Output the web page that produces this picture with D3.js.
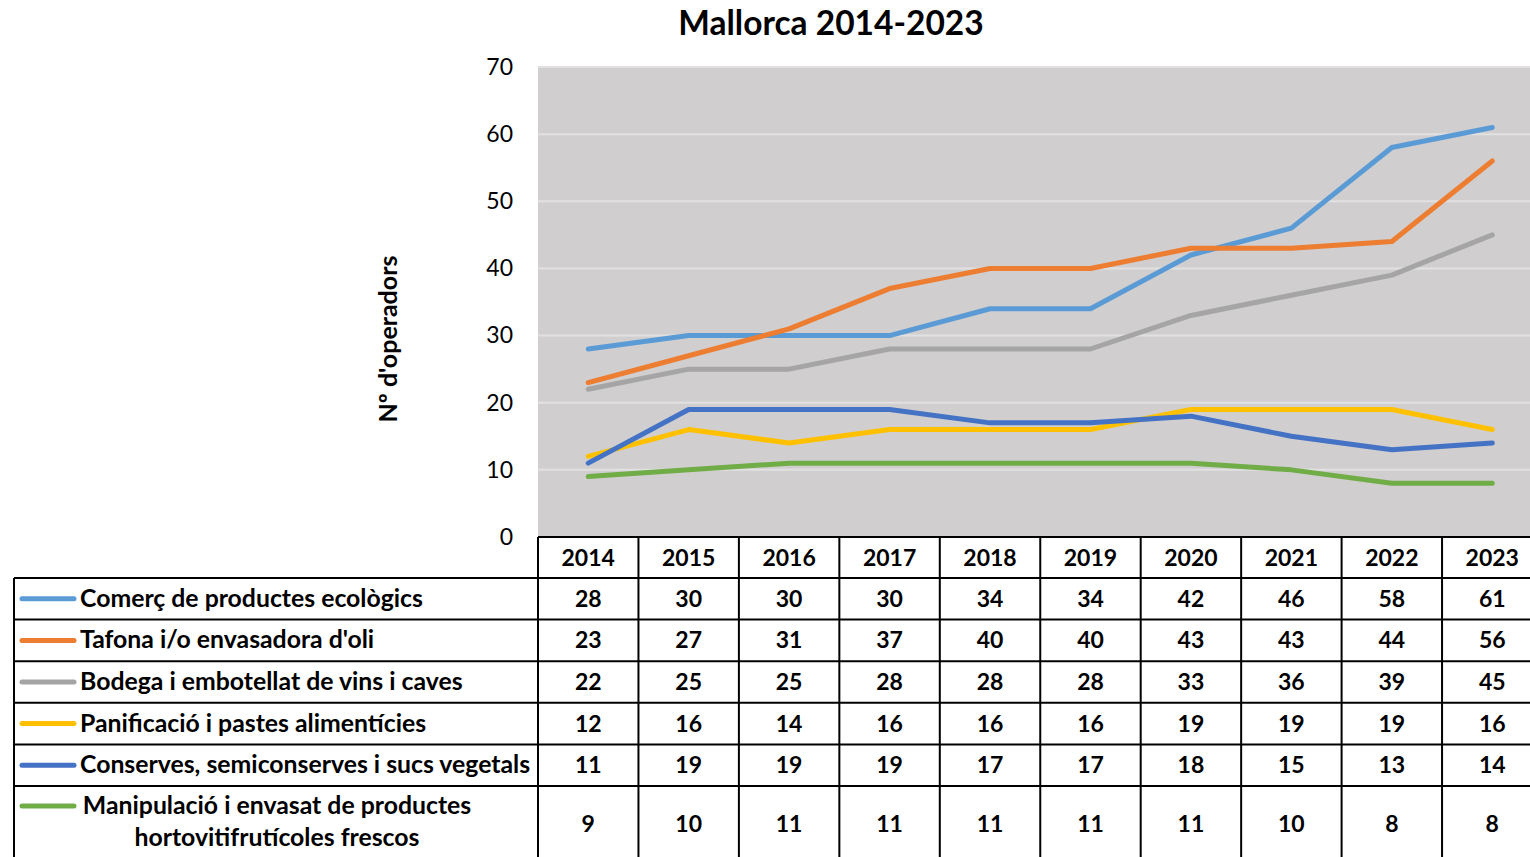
<!DOCTYPE html>
<html>
<head>
<meta charset="utf-8">
<script src="https://cdn.jsdelivr.net/npm/d3@7"></script>
<style>
  html, body { margin: 0; padding: 0; background: #fff; }
  svg { display: block; }
  text { font-family: Lato, "Open Sans", sans-serif; }
</style>
</head>
<body>
<svg id="chart" width="1530" height="857"></svg>
<script>
// Years shown along the category axis
const years = ["2014","2015","2016","2017","2018","2019","2020","2021","2022","2023"];

// Series names (legend / table row labels)
const seriesNames = [
  "Comerç de productes ecològics",
  "Tafona i/o envasadora d'oli",
  "Bodega i embotellat de vins i caves",
  "Panificació i pastes alimentícies",
  "Conserves, semiconserves i sucs vegetals",
  "Manipulació i envasat de productes hortovitifrutícoles frescos"
];

// Number of operators per year, one array per series
const comerc     = [28, 30, 30, 30, 34, 34, 42, 46, 58, 61];
const tafona     = [23, 27, 31, 37, 40, 40, 43, 43, 44, 56];
const bodega     = [22, 25, 25, 28, 28, 28, 33, 36, 39, 45];
const panificacio= [12, 16, 14, 16, 16, 16, 19, 19, 19, 16];
const conserves  = [11, 19, 19, 19, 17, 17, 18, 15, 13, 14];
const manipulacio= [ 9, 10, 11, 11, 11, 11, 11, 10,  8,  8];

const seriesValues = [comerc, tafona, bodega, panificacio, conserves, manipulacio];
const seriesColors = ["#5b9bd5", "#ed7d31", "#a5a5a5", "#ffc000", "#4472c4", "#70ad47"];

const yTicks = [0, 10, 20, 30, 40, 50, 60, 70];

const svg = d3.select("#chart");

// Plot geometry
const plotLeft = 538, plotTop = 67, plotBottom = 537;
const bandW = 100.45;
const plotRight = plotLeft + bandW * years.length;

const x = d3.scaleBand().domain(years).range([plotLeft, plotRight]);
const y = d3.scaleLinear().domain([0, 70]).range([plotBottom, plotTop]);

// Title
svg.append("text")
  .attr("x", 831).attr("y", 35)
  .attr("text-anchor", "middle")
  .attr("font-size", 33.5).attr("font-weight", "bold")
  .attr("fill", "#000")
  .text("Mallorca 2014-2023");

// Plot background
svg.append("rect")
  .attr("x", plotLeft).attr("y", plotTop)
  .attr("width", plotRight - plotLeft).attr("height", plotBottom - plotTop)
  .attr("fill", "#d0cecf");

// Gridlines
svg.append("g").selectAll("line")
  .data(yTicks.filter(t => t > 0))
  .join("line")
  .attr("x1", plotLeft).attr("x2", plotRight)
  .attr("y1", d => y(d)).attr("y2", d => y(d))
  .attr("stroke", "#e2e1e2").attr("stroke-width", 2);

// Y axis (labels only)
const yAxis = d3.axisLeft(y).tickValues(yTicks).tickSize(0).tickPadding(25);
const gy = svg.append("g")
  .attr("transform", `translate(${plotLeft},0)`)
  .call(yAxis);
gy.select(".domain").remove();
gy.selectAll("text")
  .attr("font-family", "Lato, 'Open Sans', sans-serif")
  .attr("font-size", 23).attr("fill", "#000");

// Y axis title
svg.append("text")
  .attr("transform", "translate(397,339) rotate(-90)")
  .attr("text-anchor", "middle")
  .attr("font-size", 25).attr("font-weight", "bold")
  .text("Nº d'operadors");

// Lines
const line = d3.line()
  .x((d, i) => x(years[i]) + x.bandwidth() / 2)
  .y(d => y(d));

svg.append("g").selectAll("path")
  .data(seriesValues)
  .join("path")
  .attr("d", d => line(d))
  .attr("fill", "none")
  .attr("stroke", (d, i) => seriesColors[i])
  .attr("stroke-width", 5)
  .attr("stroke-linecap", "round")
  .attr("stroke-linejoin", "round");

// Data table
const tableLeft = 14;
const headerTop = plotBottom, headerBottom = 578;
const rowH = 41.6;
const rowTops = seriesNames.map((s, i) => headerBottom + i * rowH);
const rowHeights = seriesNames.map((s, i) => i === seriesNames.length - 1 ? 75 : rowH);
const tableBottom = rowTops[rowTops.length - 1] + rowHeights[rowHeights.length - 1];

const tg = svg.append("g");
const labelSize = 24.8, numSize = 23;

// Header year labels
tg.selectAll("text.year")
  .data(years)
  .join("text")
  .attr("class", "year")
  .attr("x", d => x(d) + x.bandwidth() / 2)
  .attr("y", (headerTop + headerBottom) / 2 + 8)
  .attr("text-anchor", "middle")
  .attr("font-size", numSize).attr("font-weight", "bold")
  .text(d => d);

// Values
seriesValues.forEach((vals, r) => {
  const cy = rowTops[r] + rowHeights[r] / 2 + 8;
  tg.append("g").selectAll("text")
    .data(vals)
    .join("text")
    .attr("x", (d, i) => x(years[i]) + x.bandwidth() / 2)
    .attr("y", cy)
    .attr("text-anchor", "middle")
    .attr("font-size", numSize).attr("font-weight", "bold")
    .text(d => d);
});

// Legend keys and row labels
seriesNames.forEach((name, r) => {
  const top = rowTops[r];
  const lastRow = r === seriesNames.length - 1;
  const ky = lastRow ? top + 20 : top + rowH / 2;
  tg.append("line")
    .attr("x1", 22).attr("x2", 74)
    .attr("y1", ky).attr("y2", ky)
    .attr("stroke", seriesColors[r]).attr("stroke-width", 5)
    .attr("stroke-linecap", "round");
  if (lastRow) {
    const parts = ["Manipulació i envasat de productes", "hortovitifrutícoles frescos"];
    const t = tg.append("text")
      .attr("text-anchor", "middle")
      .attr("font-size", labelSize).attr("font-weight", "bold");
    parts.forEach((p, k) => {
      t.append("tspan").attr("x", 277).attr("y", top + 28 + k * 32).text(p);
    });
  } else {
    tg.append("text")
      .attr("x", 80).attr("y", ky + 8)
      .attr("font-size", labelSize).attr("font-weight", "bold")
      .text(name);
  }
});

// Table grid lines
const gridStroke = "#000", gridW = 2;
// Vertical lines in the value area
d3.range(years.length + 1).forEach(i => {
  const vx = plotLeft + i * bandW;
  tg.append("line")
    .attr("x1", vx).attr("x2", vx)
    .attr("y1", headerTop).attr("y2", tableBottom)
    .attr("stroke", gridStroke).attr("stroke-width", gridW);
});
// Left border of legend column
tg.append("line")
  .attr("x1", tableLeft).attr("x2", tableLeft)
  .attr("y1", headerBottom).attr("y2", tableBottom)
  .attr("stroke", gridStroke).attr("stroke-width", gridW);
// Header top
tg.append("line")
  .attr("x1", plotLeft).attr("x2", plotRight)
  .attr("y1", headerTop).attr("y2", headerTop)
  .attr("stroke", gridStroke).attr("stroke-width", gridW);
// Row separators
rowTops.concat([tableBottom]).forEach(ry => {
  tg.append("line")
    .attr("x1", tableLeft).attr("x2", plotRight)
    .attr("y1", ry).attr("y2", ry)
    .attr("stroke", gridStroke).attr("stroke-width", gridW);
});
</script>
</body>
</html>
